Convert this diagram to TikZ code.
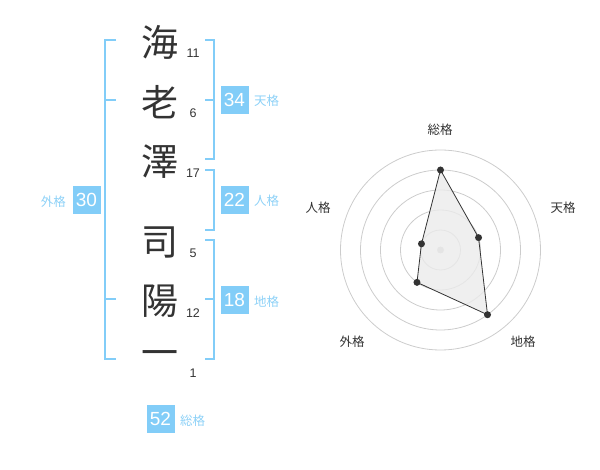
\documentclass[tikz,border=0pt]{standalone}
\usepackage{fontspec}
\setmainfont{Liberation Sans}
\newfontfamily\cjk{Noto Sans CJK JP}
\definecolor{boxblue}{HTML}{82CDF8}
\definecolor{lblblue}{HTML}{8DD1F7}
\definecolor{ink}{HTML}{333333}
\definecolor{gridgray}{HTML}{CCCCCC}
\begin{document}
\begin{tikzpicture}[x=1pt,y=-1pt,
  kanji/.style={font=\cjk\fontsize{37}{37}\selectfont, text=ink, inner sep=0pt},
  strokes/.style={font=\fontsize{12.5}{12.5}\selectfont, text=ink, inner sep=0pt},
  numbox/.style={fill=boxblue, text=white, minimum size=28pt, inner sep=0pt, font=\fontsize{19}{19}\selectfont},
  kaku/.style={font=\cjk\fontsize{12.5}{12.5}\selectfont, text=lblblue, inner sep=0pt},
  bracket/.style={draw=boxblue, line width=2pt},
  grid/.style={draw=gridgray, line width=0.8pt},
  axislbl/.style={font=\cjk\fontsize{12.5}{12.5}\selectfont, text=ink, inner sep=0pt},
  dot/.style={circle, fill=ink, inner sep=0pt, minimum size=7pt}
]
\useasboundingbox (0,0) rectangle (600,470);
% characters
\node[kanji] (c1) at (160,42) {海};
\node[kanji] (c2) at (160,102) {老};
\node[kanji] (c3) at (160,162) {澤};
\node[kanji] (c4) at (160,242) {司};
\node[kanji] (c5) at (160,301) {陽};
\node[kanji] (c6) at (160,359) {一};
% stroke counts
\node[strokes] (n1) at (193,53) {11};
\node[strokes] (n2) at (193,113) {6};
\node[strokes] (n3) at (193,173) {17};
\node[strokes] (n4) at (193,253) {5};
\node[strokes] (n5) at (193,313) {12};
\node[strokes] (n6) at (193,373) {1};
% brackets
\draw[bracket] (116,40) -- (105,40) -- (105,359) -- (116,359);
\draw[bracket] (105,100) -- (116,100);
\draw[bracket] (105,299) -- (116,299);
\draw[bracket] (205,40) -- (214,40) -- (214,159) -- (205,159);
\draw[bracket] (205,100) -- (214,100);
\draw[bracket] (205,170) -- (214,170) -- (214,230) -- (205,230);
\draw[bracket] (205,240) -- (214,240) -- (214,359) -- (205,359);
\draw[bracket] (205,299) -- (214,299);
% boxes and labels
\node[numbox] (b34) at (234.5,100) {34};
\node[kaku, anchor=west] (l34) at (254,101) {天格};
\node[numbox] (b22) at (234.5,200) {22};
\node[kaku, anchor=west] (l22) at (254,201) {人格};
\node[numbox] (b18) at (234.5,300) {18};
\node[kaku, anchor=west] (l18) at (254,302) {地格};
\node[numbox] (b30) at (86.5,200) {30};
\node[kaku, anchor=east] (l30) at (66,202) {外格};
\node[numbox] (b52) at (160.5,419) {52};
\node[kaku, anchor=west] (l52) at (180,421) {総格};
% radar
\coordinate (ctr) at (440.5,250);
\foreach \r in {20,40,60,80,100} \draw[grid] (ctr) circle[radius=\r];
\fill[gridgray] (ctr) circle[radius=3.5];
\begin{scope}[shift={(440.5,250)}, y=1pt]
\coordinate (p1) at (90:80);
\coordinate (p2) at (18:40);
\coordinate (p3) at (-54:80);
\coordinate (p4) at (-126:40);
\coordinate (p5) at (162:20);
\fill[ink!10, opacity=0.8] (p1) -- (p2) -- (p3) -- (p4) -- (p5) -- cycle;
\draw[ink, line width=0.8pt] (p1) -- (p2) -- (p3) -- (p4) -- (p5) -- cycle;
\foreach \p in {p1,p2,p3,p4,p5} \node[dot] at (\p) {};
\end{scope}
\node[axislbl] (a1) at (440,130) {総格};
\node[axislbl] (a2) at (563,208) {天格};
\node[axislbl] (a3) at (523,342) {地格};
\node[axislbl] (a4) at (352,342) {外格};
\node[axislbl] (a5) at (318,208) {人格};
\end{tikzpicture}
\end{document}
